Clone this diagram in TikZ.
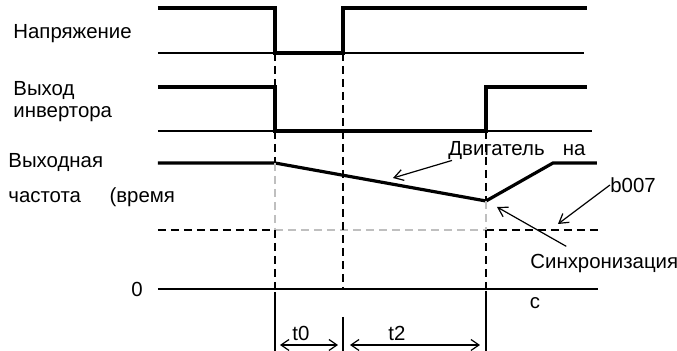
\documentclass[tikz,border=0pt]{standalone}
\usepackage{fontspec}
\setmainfont{Liberation Sans}
\usetikzlibrary{arrows.meta}

\tikzset{
  sig/.style={line width=1.6pt},
  base/.style={line width=0.6pt},
  guide/.style={line width=0.7pt, dash pattern=on 4pt off 2.5pt},
  faint/.style={guide, black!25},
  note/.style={line width=0.6pt, -{Straight Barb[length=4.5pt,width=5.5pt]}},
  span/.style={line width=0.6pt, {Straight Barb[length=4pt,width=5.5pt]}-{Straight Barb[length=4pt,width=5.5pt]}},
  lbl/.style={inner sep=0pt, anchor=west, font=\fontsize{10.2}{12}\selectfont},
}

\begin{document}
\begin{tikzpicture}[x=0.5pt,y=-0.5pt]
  \useasboundingbox (0,0) rectangle (677,351);

  % Signal names
  \node[lbl] (volt) at (13,34) {Напряжение};
  \node[lbl] (inv1) at (13,91) {Выход};
  \node[lbl] (inv2) at (13,114) {инвертора};
  \node[lbl] (freq1) at (8,163) {Выходная};
  \node[lbl] (freq2) at (8,197) {частота\hspace{1.4em}(время};
  \node[lbl, anchor=center] (zero) at (137,289) {0};

  % Voltage
  \draw[base] (158,53) -- (584,53);
  \draw[sig] (158,8) -- (275,8) -- (275,53) -- (343,53) -- (343,8) -- (587,8);

  % Inverter output
  \draw[base] (158,131) -- (592,131);
  \draw[sig] (158,87) -- (275,87) -- (275,131) -- (486,131) -- (486,87) -- (587,87);

  % Output frequency
  \coordinate (fstop) at (275,163);
  \coordinate (fmin) at (486,201);
  \coordinate (fback) at (553,163);
  \draw[sig] (158,163) -- (fstop) -- (fmin) -- (fback) -- (597,163);

  % Level b007 (dashed)
  \draw[guide] (158,230) -- (275,230);
  \draw[faint] (275,230) -- (486,230);
  \draw[guide] (486,230) -- (600,230);

  % Zero axis
  \draw[base] (158,289) -- (598,289);

  % Vertical guides
  \draw[guide] (275,53) -- (fstop);
  \draw[faint] (fstop) -- (275,230);
  \draw[guide] (275,230) -- (275,289);
  \draw[guide] (343,53) -- (343,289);
  \draw[guide] (486,131) -- (fmin);
  \draw[faint] (fmin) -- (486,230);
  \draw[guide] (486,230) -- (486,289);

  % Time marks under the axis
  \draw[base] (275,292) -- (275,351);
  \draw[base] (343,317) -- (343,351);
  \draw[base] (486,291) -- (486,351);
  \coordinate (t0a) at (280,345);
  \coordinate (t0b) at (338,345);
  \coordinate (t2a) at (350,345);
  \coordinate (t2b) at (480,345);
  \draw[span] (t0a) -- (t0b);
  \draw[span] (t2a) -- (t2b);
  \node[lbl, anchor=center] (t0) at (301,333) {t0};
  \node[lbl, anchor=center] (t2) at (397,333) {t2};
  \node[lbl, anchor=center] (unit) at (535,303) {c};

  % Notes
  \node[lbl] (motor) at (448,151) {Двигатель\hspace{0.9em}на};
  \coordinate (motortip) at (393,178);
  \draw[note] ([xshift=2pt]motor.south west) -- (motortip);

  \node[lbl] (level) at (610,185) {b007};
  \coordinate (leveltip) at (558,224);
  \draw[note] (level.west) -- (leveltip);

  \node[lbl] (sync) at (530,264) {Синхронизация};
  \coordinate (synctip) at (497,207);
  \draw[note] ([xshift=-19pt,yshift=4pt]sync.north) -- (synctip);
\end{tikzpicture}
\end{document}
